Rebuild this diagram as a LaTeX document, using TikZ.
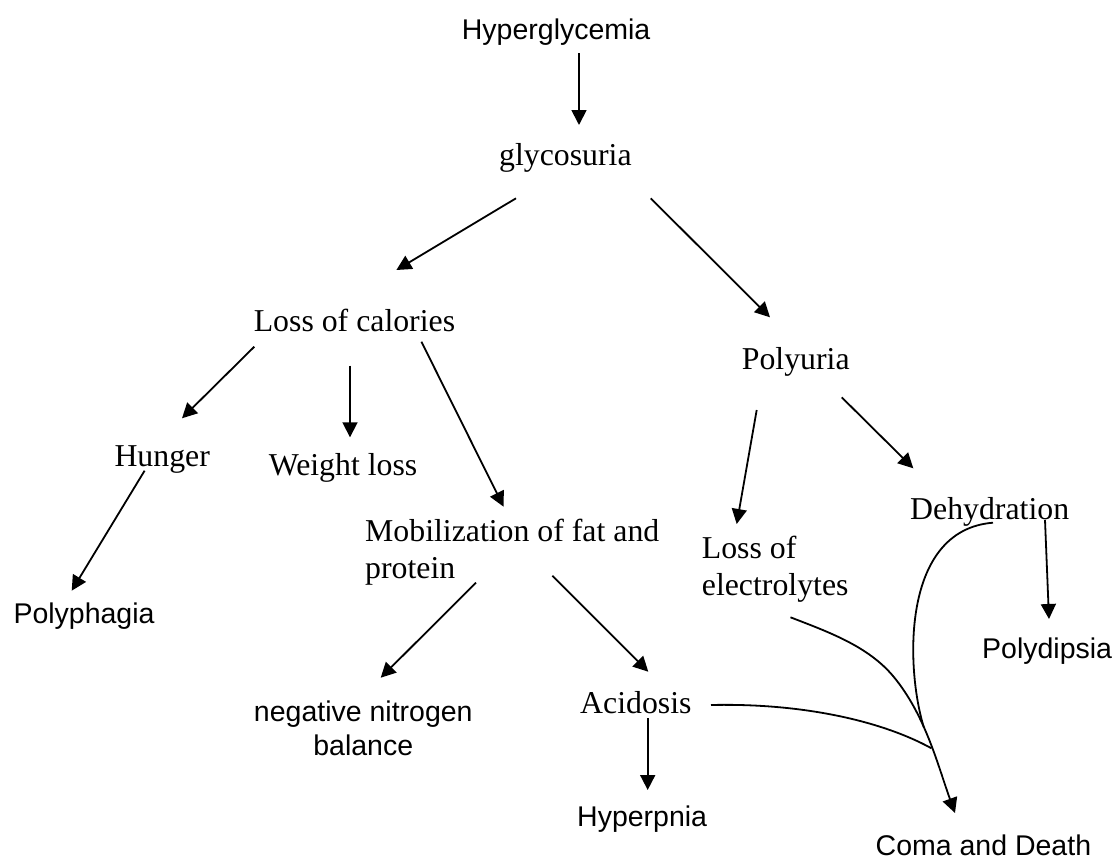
\documentclass[tikz,border=0pt]{standalone}
\usepackage{fontspec}
\setmainfont{Liberation Serif}
\newfontfamily\arialfont{Liberation Sans}
\usetikzlibrary{arrows.meta,calc}
\begin{document}
\begin{tikzpicture}[x=1pt,y=-1pt,
  serif/.style={inner sep=0pt, anchor=base west, font=\fontsize{31.8pt}{37pt}\selectfont},
  sans/.style={inner sep=0pt, anchor=base west, font=\arialfont\fontsize{28.5pt}{33.3pt}\selectfont},
  arr/.style={line width=1.8pt, -{Triangle[length=15pt,width=15pt]}},
  link/.style={line width=1.8pt}]
\useasboundingbox (0,0) rectangle (1117,859);

% nodes
\node[sans]  (hyper)  at (461.7,39.3)  {Hyperglycemia};
\node[serif] (glyc)   at (499,165.7)   {glycosuria};
\node[serif] (loc)    at (253.6,331.7) {Loss of calories};
\node[serif] (poly)   at (741.7,369.3) {Polyuria};
\node[serif] (hunger) at (114.3,466.7) {Hunger};
\node[serif] (wl)     at (268.6,475)   {Weight loss};
\node[serif] (mob)    at (365,541.7)   {\begin{tabular}[t]{@{}l@{}}Mobilization of fat and\\protein\end{tabular}};
\node[serif, font=\fontsize{31.8pt}{36.7pt}\selectfont] (loe) at (701.7,558.3) {\begin{tabular}[t]{@{}l@{}}Loss of\\electrolytes\end{tabular}};
\node[serif] (dehyd)  at (910,519.5)   {Dehydration};
\node[sans]  (polyph) at (13.3,623.3)  {Polyphagia};
\node[sans]  (polyd)  at (982,658)     {Polydipsia};
\node[sans, anchor=base] (nnb) at (363.3,721.7) {\begin{tabular}[t]{@{}c@{}}negative nitrogen\\balance\end{tabular}};
\node[serif] (acid)   at (580,713.3)   {Acidosis};
\node[sans]  (hyperp) at (577,826.7)   {Hyperpnia};
\node[sans]  (coma)   at (875.5,855)   {Coma and Death};

% where the curves towards Coma and Death run together
\coordinate (bend)  at ($(coma.base west)+(18.1,-178.3)$);
\coordinate (tip)   at ($(coma.base west)+(79.5,-42)$);
\coordinate (joinD) at ($(coma.base west)+(48.5,-127.2)$);
\coordinate (joinA) at ($(coma.base west)+(56,-106.7)$);

% straight connectors
\draw[arr] ($(hyper.base west)+(117.3,14)$) -- ($(glyc.base west)+(80,-40.7)$);
\draw[arr] ($(glyc.base west)+(17,32.6)$) -- ($(loc.base west)+(142.8,-61.7)$);
\draw[arr] ($(glyc.base west)+(151.7,32.6)$) -- ($(poly.base west)+(28.3,-52)$);
\draw[arr] ($(loc.base west)+(0.7,15)$) -- ($(hunger.base west)+(67.7,-48.4)$);
\draw[arr] ($(loc.base west)+(96.4,34)$) -- ($(wl.base west)+(81.4,-37.7)$);
\draw[arr] ($(loc.base west)+(167.8,10)$) -- ($(mob.base west)+(138.6,-35)$);
\draw[arr] ($(hunger.base west)+(30.3,4)$) -- ($(polyph.base west)+(58.4,-32.6)$);
\draw[arr] ($(mob.base west)+(111,41)$) -- ($(nnb.base)+(17.4,-44)$);
\draw[arr] ($(mob.base west)+(187.3,34)$) -- ($(acid.base west)+(68.3,-41.6)$);
\draw[arr] ($(poly.base west)+(15,40.7)$) -- ($(loe.base west)+(35,-34.3)$);
\draw[arr] ($(poly.base west)+(100,28)$) -- ($(dehyd.base west)+(3.3,-51.2)$);
\draw[arr] ($(dehyd.base west)+(135,0.5)$) -- ($(polyd.base west)+(67,-39)$);
\draw[arr] ($(acid.base west)+(67.7,5)$) -- ($(hyperp.base west)+(70.7,-36.7)$);

% curved connectors into Coma and Death
\draw[arr] ($(loe.base west)+(88.8,59)$) .. controls +(37.3,14.5) and +(-25.5,-30.8) .. (bend)
           .. controls +(31.9,38.5) and +(-17,-47) .. (tip);
\draw[link] ($(dehyd.base west)+(83,3.2)$) .. controls +(-93,7.3) and +(-18,-57) .. (joinD);
\draw[link] ($(acid.base west)+(131,-8.3)$) .. controls +(89,-2) and +(-51.5,-28.3) .. (joinA);
\end{tikzpicture}
\end{document}
